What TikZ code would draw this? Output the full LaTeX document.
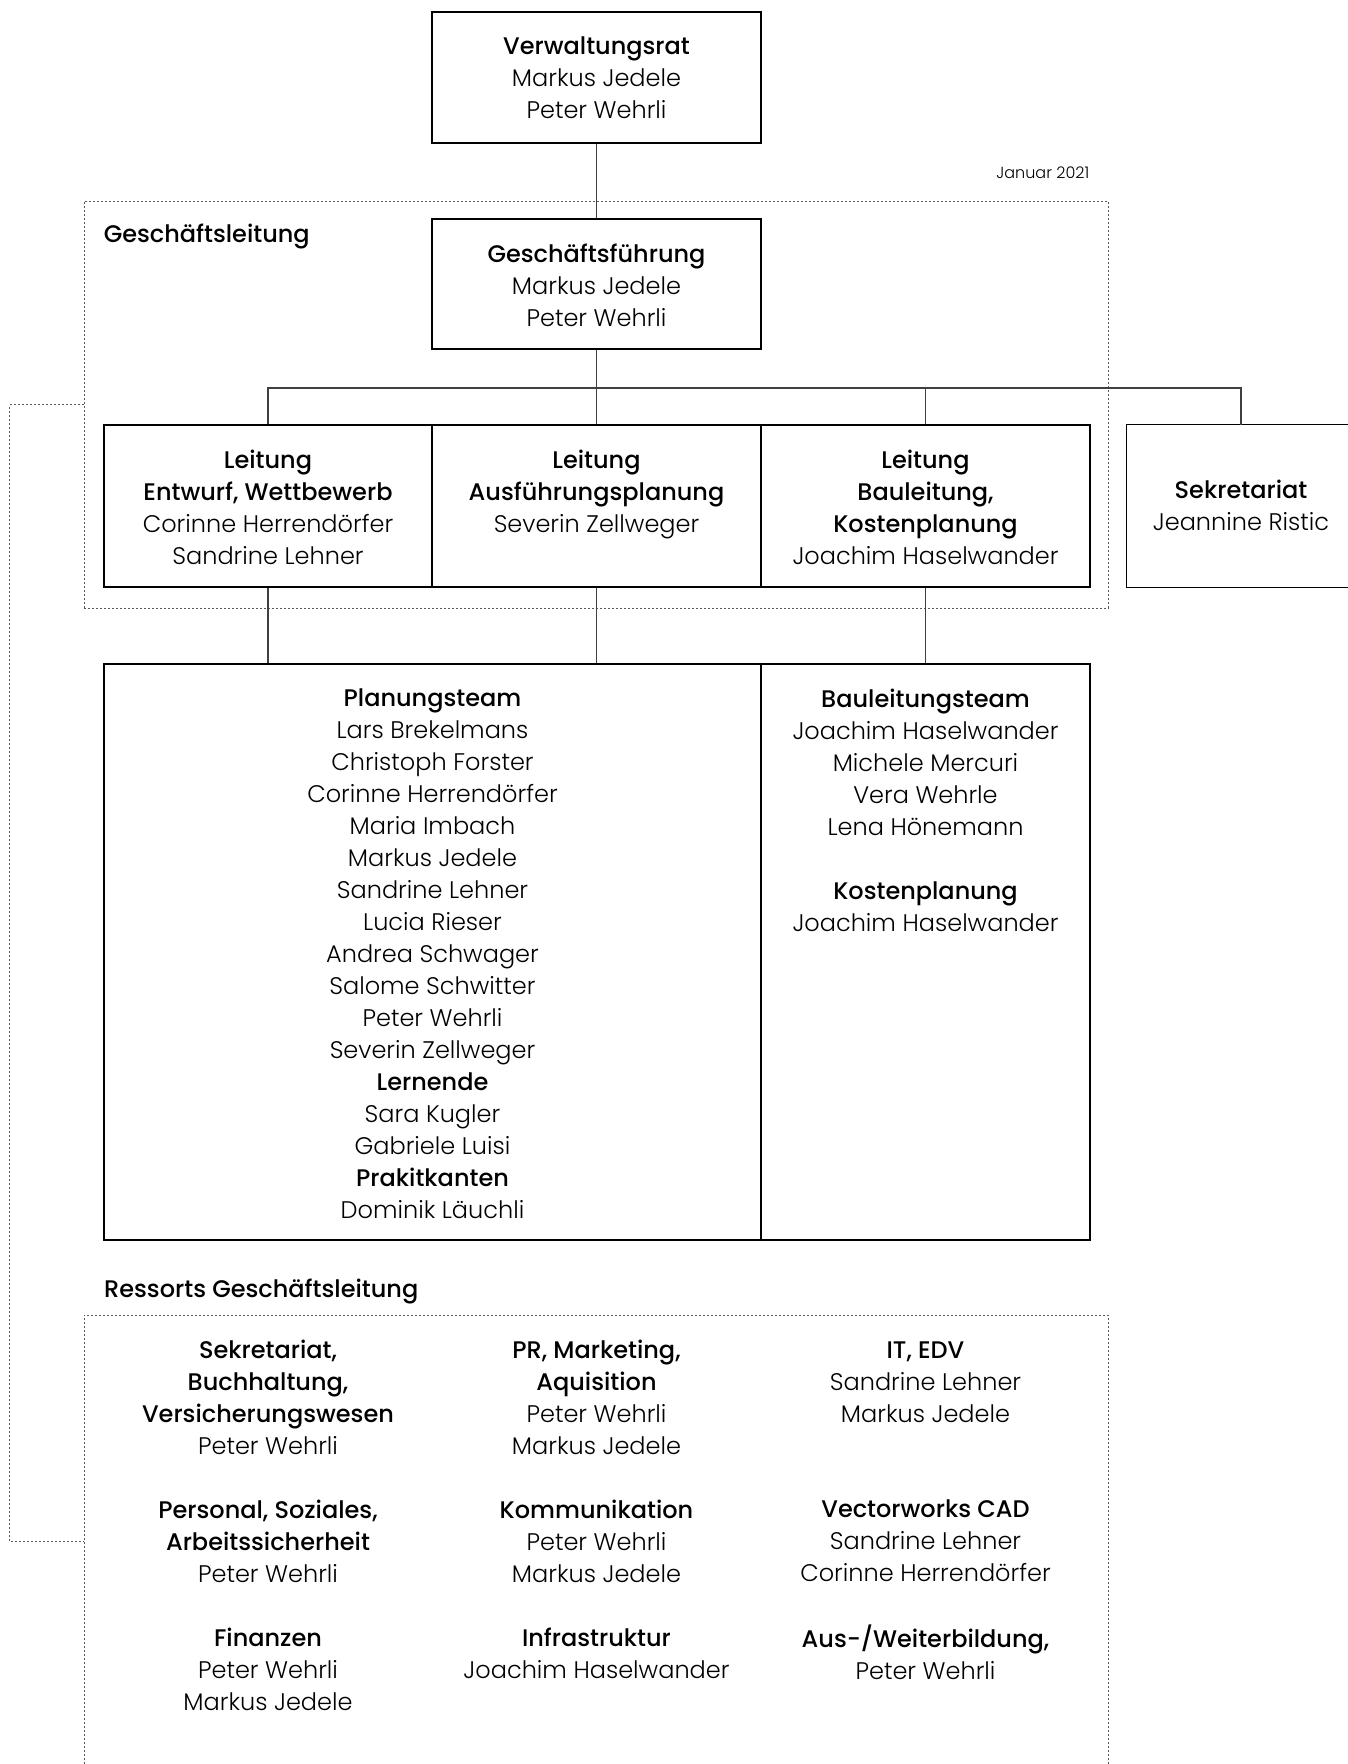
\documentclass[tikz,border=0pt]{standalone}
\usepackage{fontspec}
\setmainfont{Poppins}[UprightFont=* Light, BoldFont=* Medium]
\usepackage{tikz}
\usetikzlibrary{positioning}
\newcommand{\topstrut}{\rule{0pt}{32.8pt}}
\newcommand{\botstrut}{\rule[-7pt]{0pt}{7pt}}
\newcommand{\orgfont}{\fontsize{24}{32}\selectfont}
\tikzset{
    box/.style={draw, rectangle, line width=1.2pt, inner sep=0pt},
    txt/.style={align=center, inner sep=0pt},
    head/.style={inner sep=0pt, font=\orgfont\bfseries,
        execute at begin node=\topstrut, execute at end node=\botstrut},
    edge/.style={draw, line width=1.2pt},
    frame/.style={draw=black!65, line width=0.9pt, dash pattern=on 2pt off 2pt},
    conn/.style={draw=black!75, line width=1.2pt},
    stamp/.style={inner sep=0pt, font=\fontsize{16}{20}\selectfont} }
\newcommand{\ti}[1]{\textbf{#1}}

\begin{document}
\begin{tikzpicture}[x=1pt, y=-1pt, font=\orgfont]
			\useasboundingbox (0,0) rectangle (1348,1764);
			\clip (0,0) rectangle (1348,1764);
			% ---- Geschaeftsleitung
			\node[frame, inner sep=0pt, minimum width=1024pt, minimum height=407pt] (gl) at (596,404.5) {};
			\node[head, below right=9pt and 20pt of gl.north west] (gltitle) {Geschäftsleitung};
			\node[stamp, above left=22pt and 19pt of gl.north east] (datum) {Januar 2021};

			\node[box, minimum width=329pt, minimum height=131pt] (vr) at (596.5,77.5) {};
			\node[txt, below=25.5pt of vr.north] (vrtxt) {\ti{Verwaltungsrat}\\Markus Jedele\\Peter Wehrli};
			\node[box, minimum width=329pt, minimum height=130pt] (gf) at (596.5,284) {};
			\node[txt, below=25.5pt of gf.north] (gftxt) {\ti{Geschäftsführung}\\Markus Jedele\\Peter Wehrli};

			\node[box, minimum width=328pt, minimum height=162pt] (le) at (268,506) {};
			\node[box, minimum width=329pt, minimum height=162pt] (la) at (596.5,506) {};
			\node[box, minimum width=329pt, minimum height=162pt] (lb) at (925.5,506) {};
			\node[minimum width=228pt, minimum height=162pt, inner sep=0pt] (sek) at (1241,506) {};
			\node[txt, below=25.5pt of le.north] (letxt)
				{\ti{Leitung}\\\ti{Entwurf, Wettbewerb}\\Corinne Herrendörfer\\Sandrine Lehner};
			\node[txt, below=25.5pt of la.north] (latxt)
				{\ti{Leitung}\\\ti{Ausführungsplanung}\\Severin Zellweger};
			\node[txt, below=25.5pt of lb.north] (lbtxt)
				{\ti{Leitung}\\\ti{Bauleitung,}\\\ti{Kostenplanung}\\Joachim Haselwander};
			\node[txt, below=55.5pt of sek.north] (sektxt) {\ti{Sekretariat}\\Jeannine Ristic};
			\coordinate (bus) at (596.5,388);

			% ---- Teams
			\node[box, minimum width=657pt, minimum height=576pt] (plan) at (432.5,952) {};
			\node[box, minimum width=329pt, minimum height=576pt] (bau) at (925.5,952) {};
			\node[txt, below=25.5pt of plan.north] (plantxt)
				{\ti{Planungsteam}\\Lars Brekelmans\\Christoph Forster\\Corinne Herrendörfer\\Maria Imbach\\Markus Jedele\\Sandrine Lehner\\Lucia Rieser\\Andrea Schwager\\Salome Schwitter\\Peter Wehrli\\Severin Zellweger\\\ti{Lernende}\\Sara Kugler\\Gabriele Luisi\\\ti{Prakitkanten}\\Dominik Läuchli};
			\node[txt, below=25.5pt of bau.north] (bautxt)
				{\ti{Bauleitungsteam}\\Joachim Haselwander\\Michele Mercuri\\Vera Wehrle\\Lena Hönemann\\[32pt]\ti{Kostenplanung}\\Joachim Haselwander};

			% ---- Ressorts
			\coordinate (rnw) at (84,1315);
			\coordinate (rne) at (1108,1315);
			\coordinate (rsw) at (84,1780);
			\coordinate (rse) at (1108,1780);
			\coordinate (rlink) at (84,1541);
			\node[head, above right=10pt and 20pt of rnw] (rstitle) {Ressorts Geschäftsleitung};

			\node[txt, anchor=north] (r11) at (268,1340)
				{\ti{Sekretariat,}\\\ti{Buchhaltung,}\\\ti{Versicherungswesen}\\Peter Wehrli};
			\node[txt, anchor=north] (r12) at (596.5,1340)
				{\ti{PR, Marketing,}\\\ti{Aquisition}\\Peter Wehrli\\Markus Jedele};
			\node[txt, anchor=north] (r13) at (925.5,1342)
				{\ti{IT, EDV}\\Sandrine Lehner\\Markus Jedele};
			\node[txt, anchor=north] (r21) at (268,1500)
				{\ti{Personal, Soziales,}\\\ti{Arbeitssicherheit}\\Peter Wehrli};
			\node[txt, anchor=north] (r22) at (596.5,1500)
				{\ti{Kommunikation}\\Peter Wehrli\\Markus Jedele};
			\node[txt, anchor=north] (r23) at (925.5,1500)
				{\ti{Vectorworks CAD}\\Sandrine Lehner\\Corinne Herrendörfer};
			\node[txt, anchor=north] (r31) at (268,1628)
				{\ti{Finanzen}\\Peter Wehrli\\Markus Jedele};
			\node[txt, anchor=north] (r32) at (596.5,1628)
				{\ti{Infrastruktur}\\Joachim Haselwander};
			\node[txt, anchor=north] (r33) at (925.5,1625)
				{\ti{Aus-/Weiterbildung,}\\Peter Wehrli};
			% ----
			\draw[edge] ([xshift=30pt]sek.north east) -- (sek.north west) -- (sek.south west) -- ([xshift=30pt]sek.south east);
			\draw[conn] (vr.south) -- (gf.north);
			\draw[conn] (gf.south) -- (bus);
			\foreach \n in {le,la,lb,sek}
				\draw[conn] (bus) -| (\n.north);
			\foreach \n in {le,la,lb}
				\draw[conn] (\n.south) -- (\n.south |- plan.north);

			\draw[frame] (rsw) -- (rnw) -- (rne) -- (rse);
			\draw[frame] (gl.west) -- ++(-74,0) |- (rlink);
		\end{tikzpicture}
\end{document}
